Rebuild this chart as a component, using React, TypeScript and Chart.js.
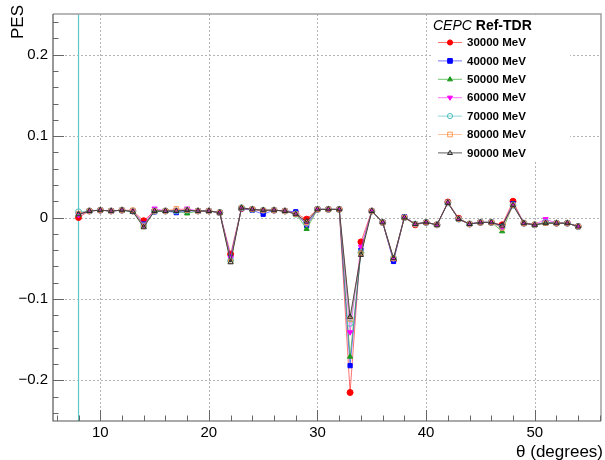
import React, { useEffect, useRef } from 'react';
import { Chart, registerables } from 'chart.js';

Chart.register(...registerables);

// ---------------- data ----------------
const thetaValues = [
  8, 9, 10, 11, 12, 13, 14, 15, 16, 17,
  18, 19, 20, 21, 22, 23, 24, 25, 26, 27,
  28, 29, 30, 31, 32, 33, 34, 35, 36, 37,
  38, 39, 40, 41, 42, 43, 44, 45, 46, 47,
  48, 49, 50, 51, 52, 53, 54,
];

const energyLabels = ['30000 MeV', '40000 MeV', '50000 MeV', '60000 MeV', '70000 MeV', '80000 MeV', '90000 MeV'];

const pes30000 = [
  0.000, 0.008, 0.009, 0.008, 0.009, 0.008, -0.004, 0.008, 0.008, 0.008,
  0.009, 0.008, 0.008, 0.006, -0.045, 0.011, 0.010, 0.008, 0.009, 0.008,
  0.005, -0.002, 0.010, 0.010, 0.010, -0.215, -0.030, 0.008, -0.006, -0.052,
  0.000, -0.009, -0.006, -0.009, 0.019, -0.001, -0.008, -0.006, -0.006, -0.009,
  0.020, -0.007, -0.009, -0.006, -0.007, -0.007, -0.011,
];
const pes40000 = [
  0.004, 0.008, 0.009, 0.008, 0.009, 0.008, -0.008, 0.007, 0.008, 0.006,
  0.008, 0.008, 0.008, 0.006, -0.049, 0.011, 0.009, 0.004, 0.009, 0.008,
  0.007, -0.010, 0.010, 0.010, 0.010, -0.182, -0.040, 0.008, -0.006, -0.054,
  0.001, -0.008, -0.006, -0.009, 0.018, -0.002, -0.008, -0.006, -0.006, -0.011,
  0.017, -0.007, -0.009, -0.006, -0.007, -0.007, -0.011,
];
const pes50000 = [
  0.003, 0.008, 0.009, 0.008, 0.009, 0.007, -0.010, 0.008, 0.008, 0.008,
  0.005, 0.008, 0.008, 0.006, -0.052, 0.011, 0.010, 0.009, 0.009, 0.008,
  0.005, -0.014, 0.010, 0.010, 0.010, -0.171, -0.042, 0.008, -0.006, -0.051,
  0.000, -0.008, -0.006, -0.009, 0.018, -0.002, -0.008, -0.006, -0.006, -0.017,
  0.016, -0.007, -0.009, -0.007, -0.007, -0.007, -0.011,
];
const pes60000 = [
  0.003, 0.008, 0.009, 0.008, 0.009, 0.008, -0.009, 0.011, 0.008, 0.009,
  0.011, 0.008, 0.008, 0.006, -0.050, 0.011, 0.010, 0.009, 0.009, 0.008,
  0.005, -0.008, 0.010, 0.010, 0.010, -0.141, -0.036, 0.008, -0.006, -0.051,
  0.001, -0.008, -0.006, -0.009, 0.018, -0.002, -0.008, -0.006, -0.006, -0.012,
  0.016, -0.007, -0.009, -0.002, -0.007, -0.007, -0.011,
];
const pes70000 = [
  0.007, 0.008, 0.009, 0.008, 0.009, 0.008, -0.010, 0.008, 0.008, 0.008,
  0.009, 0.008, 0.008, 0.006, -0.053, 0.012, 0.010, 0.009, 0.009, 0.008,
  0.004, -0.007, 0.010, 0.010, 0.010, -0.130, -0.043, 0.008, -0.006, -0.050,
  0.000, -0.008, -0.006, -0.009, 0.018, -0.002, -0.008, -0.006, -0.006, -0.012,
  0.015, -0.007, -0.009, -0.006, -0.007, -0.007, -0.011,
];
const pes80000 = [
  0.005, 0.008, 0.009, 0.008, 0.009, 0.009, -0.011, 0.008, 0.008, 0.011,
  0.009, 0.008, 0.008, 0.006, -0.054, 0.012, 0.010, 0.009, 0.009, 0.008,
  0.004, -0.006, 0.010, 0.010, 0.010, -0.125, -0.044, 0.008, -0.006, -0.050,
  0.000, -0.008, -0.006, -0.009, 0.018, -0.002, -0.008, -0.006, -0.006, -0.013,
  0.015, -0.007, -0.009, -0.007, -0.007, -0.007, -0.011,
];
const pes90000 = [
  0.004, 0.008, 0.009, 0.008, 0.009, 0.007, -0.012, 0.008, 0.008, 0.008,
  0.009, 0.008, 0.008, 0.006, -0.055, 0.012, 0.010, 0.009, 0.009, 0.008,
  0.004, -0.005, 0.010, 0.010, 0.010, -0.122, -0.046, 0.008, -0.006, -0.050,
  0.000, -0.008, -0.006, -0.009, 0.018, -0.002, -0.008, -0.006, -0.006, -0.010,
  0.015, -0.007, -0.009, -0.007, -0.007, -0.007, -0.011,
];

const seriesValues = [pes30000, pes40000, pes50000, pes60000, pes70000, pes80000, pes90000];

const xMinorTicks = [6, 8, 10, 12, 14, 16, 18, 20, 22, 24, 26, 28, 30, 32, 34, 36, 38, 40, 42, 44, 46, 48, 50, 52, 54, 56];
const xMajorTicks = [10, 20, 30, 40, 50];
const yMinorTicks = [-0.24, -0.22, -0.2, -0.18, -0.16, -0.14, -0.12, -0.1, -0.08, -0.06, -0.04, -0.02, 0,
  0.02, 0.04, 0.06, 0.08, 0.1, 0.12, 0.14, 0.16, 0.18, 0.2, 0.22, 0.24];
const yMajorTicks = [-0.2, -0.1, 0, 0.1, 0.2];
const xRange = [5.65, 56.1];
const yRange = [-0.25, 0.25];
const boundaryTheta = 8;

// ---------------- styles ----------------
const FONT = '"Liberation Sans", Arial, Helvetica, sans-serif';
const markerColors = ['#ff0000', '#0000ff', '#1a9a1a', '#ff00ff', '#4fbfbf', '#ff9955', '#2a2a2a'];
const lineColors = [
  'rgba(255,0,0,0.55)', 'rgba(0,0,255,0.55)', 'rgba(20,160,20,0.6)', 'rgba(255,0,255,0.55)',
  'rgba(70,185,185,0.6)', 'rgba(255,150,90,0.6)', 'rgba(40,40,40,0.75)',
];
const markerStyles = ['circle', 'rect', 'triangle', 'triangle', 'circle', 'rect', 'triangle'];
const markerRotation = [0, 0, 0, 180, 0, 0, 0];
const markerFilled = [true, true, true, true, false, false, false];

function fmtY(v: number): string {
  if (Math.abs(v) < 1e-9) return '0';
  return (v < 0 ? '\u2212' : '') + Math.abs(v).toFixed(1);
}
function isMajorY(v: number): boolean {
  return Math.abs(v * 10 - Math.round(v * 10)) < 1e-6;
}

function drawMarker(ctx: CanvasRenderingContext2D, i: number, x: number, y: number, r: number) {
  ctx.save();
  ctx.strokeStyle = markerColors[i];
  ctx.fillStyle = markerColors[i];
  ctx.lineWidth = 1;
  ctx.beginPath();
  const st = markerStyles[i];
  if (st === 'circle') {
    ctx.arc(x, y, r, 0, Math.PI * 2);
  } else if (st === 'rect') {
    ctx.rect(x - r * 0.9, y - r * 0.9, r * 1.8, r * 1.8);
  } else {
    const d = markerRotation[i] === 180 ? -1 : 1;
    ctx.moveTo(x, y - d * r);
    ctx.lineTo(x + r * 0.95, y + d * r * 0.6);
    ctx.lineTo(x - r * 0.95, y + d * r * 0.6);
    ctx.closePath();
  }
  if (markerFilled[i]) ctx.fill();
  ctx.stroke();
  ctx.restore();
}

const rootStylePlugin = {
  id: 'rootStyle',
  beforeDatasetsDraw(chart: any) {
    const { ctx, chartArea: a, scales } = chart;
    const xs = scales.x;
    const ys = scales.y;
    ctx.save();
    ctx.strokeStyle = '#b4b4b4';
    ctx.lineWidth = 1;
    ctx.setLineDash([2, 2]);
    xMajorTicks.forEach((v) => {
      const px = Math.round(xs.getPixelForValue(v)) + 0.5;
      ctx.beginPath();
      ctx.moveTo(px, a.top);
      ctx.lineTo(px, a.bottom);
      ctx.stroke();
    });
    yMajorTicks.forEach((v) => {
      const py = Math.round(ys.getPixelForValue(v)) + 0.5;
      ctx.beginPath();
      ctx.moveTo(a.left, py);
      ctx.lineTo(a.right, py);
      ctx.stroke();
    });
    ctx.setLineDash([]);
    // legend background box hides grid lines
    ctx.fillStyle = '#ffffff';
    ctx.fillRect(433, 15, 137, 147);
    // boundary line
    ctx.strokeStyle = '#5cc8c8';
    ctx.lineWidth = 1.2;
    const bx = xs.getPixelForValue(boundaryTheta);
    ctx.beginPath();
    ctx.moveTo(bx, a.top);
    ctx.lineTo(bx, a.bottom);
    ctx.stroke();
    ctx.restore();
  },
  afterDatasetsDraw(chart: any) {
    const { ctx, chartArea: a, scales } = chart;
    const xs = scales.x;
    const ys = scales.y;
    ctx.save();
    // frame
    ctx.strokeStyle = '#a0a0a0';
    ctx.lineWidth = 1.5;
    ctx.beginPath();
    ctx.moveTo(a.left, a.top);
    ctx.lineTo(a.right, a.top);
    ctx.lineTo(a.right, a.bottom);
    ctx.stroke();
    ctx.strokeStyle = '#555555';
    ctx.lineWidth = 1.2;
    ctx.beginPath();
    ctx.moveTo(a.left, a.top);
    ctx.lineTo(a.left, a.bottom);
    ctx.lineTo(a.right, a.bottom);
    ctx.stroke();
    // inner ticks
    ctx.lineWidth = 1;
    ctx.strokeStyle = '#666666';
    xMinorTicks.forEach((v) => {
      const px = Math.round(xs.getPixelForValue(v)) + 0.5;
      const len = xMajorTicks.includes(v) ? 11 : 5.5;
      ctx.beginPath();
      ctx.moveTo(px, a.bottom);
      ctx.lineTo(px, a.bottom - len);
      ctx.stroke();
    });
    yMinorTicks.forEach((v) => {
      const py = Math.round(ys.getPixelForValue(v)) + 0.5;
      const len = isMajorY(v) ? 11 : 5.5;
      ctx.beginPath();
      ctx.moveTo(a.left, py);
      ctx.lineTo(a.left + len, py);
      ctx.stroke();
    });
    // axis titles
    ctx.fillStyle = '#000';
    ctx.font = `17px ${FONT}`;
    ctx.textAlign = 'right';
    ctx.textBaseline = 'alphabetic';
    ctx.fillText('\u03b8 (degrees)', 603, 457);
    ctx.save();
    ctx.translate(23, 5);
    ctx.rotate(-Math.PI / 2);
    ctx.textAlign = 'right';
    ctx.fillText('PES', 0, 0);
    ctx.restore();

    // legend
    ctx.textAlign = 'left';
    ctx.textBaseline = 'middle';
    ctx.font = `italic 14px ${FONT}`;
    const t1 = 'CEPC ';
    ctx.fillText(t1, 433, 26);
    const w1 = ctx.measureText(t1).width;
    ctx.font = `bold 14px ${FONT}`;
    ctx.fillText('Ref-TDR', 433 + w1, 26);
    energyLabels.forEach((lab, i) => {
      const y = 42.5 + i * 18.4;
      ctx.strokeStyle = lineColors[i];
      ctx.lineWidth = 1;
      ctx.beginPath();
      ctx.moveTo(438, y);
      ctx.lineTo(462, y);
      ctx.stroke();
      drawMarker(ctx, i, 450, y, 2.6);
      ctx.fillStyle = '#000';
      ctx.font = `bold 11.5px ${FONT}`;
      ctx.fillText(lab, 467, y + 0.5);
    });
    ctx.restore();
  },
};

export default function App() {
  const canvasRef = useRef<HTMLCanvasElement | null>(null);

  useEffect(() => {
    document.body.style.margin = '0';
    const canvas = canvasRef.current;
    if (!canvas) return;

    const datasets = energyLabels.map((lab, i) => ({
      label: lab,
      data: thetaValues.map((t, k) => ({ x: t, y: seriesValues[i][k] })),
      borderColor: lineColors[i],
      backgroundColor: markerColors[i],
      borderWidth: 1,
      pointStyle: markerStyles[i] as any,
      pointRotation: markerRotation[i],
      pointRadius: 3,
      pointHoverRadius: 3,
      pointBorderWidth: 1,
      pointBorderColor: markerColors[i],
      pointBackgroundColor: markerFilled[i] ? markerColors[i] : 'rgba(0,0,0,0)',
      tension: 0,
      order: energyLabels.length - i,
    }));

    const chart = new Chart(canvas, {
      type: 'line',
      data: { datasets },
      plugins: [rootStylePlugin],
      options: {
        animation: false,
        responsive: false,
        maintainAspectRatio: false,
        events: [],
        layout: { padding: { top: 6, right: 1, left: 0, bottom: 0 } },
        plugins: { legend: { display: false }, tooltip: { enabled: false }, title: { display: false } },
        scales: {
          x: {
            type: 'linear',
            min: xRange[0],
            max: xRange[1],
            afterBuildTicks: (s: any) => {
              s.ticks = xMinorTicks.map((v) => ({ value: v }));
            },
            afterFit: (s: any) => {
              s.height = 39;
            },
            ticks: {
              autoSkip: false,
              maxRotation: 0,
              minRotation: 0,
              padding: 3,
              color: '#000',
              font: { family: FONT, size: 15 },
              callback: (v: any) => (xMajorTicks.includes(Number(v)) ? String(v) : ''),
            },
            grid: { display: false, drawTicks: false },
            border: { display: false },
          },
          y: {
            type: 'linear',
            min: yRange[0],
            max: yRange[1],
            afterBuildTicks: (s: any) => {
              s.ticks = yMinorTicks.map((v) => ({ value: v }));
            },
            afterFit: (s: any) => {
              s.width = 53;
            },
            ticks: {
              autoSkip: false,
              padding: 5,
              color: '#000',
              font: { family: FONT, size: 15 },
              callback: (v: any) => (isMajorY(Number(v)) ? fmtY(Number(v)) : ''),
            },
            grid: { display: false, drawTicks: false },
            border: { display: false },
          },
        },
      },
    });

    return () => {
      chart.destroy();
    };
  }, []);

  return (
    <div style={{ width: 605, height: 460, background: '#fff' }}>
      <canvas ref={canvasRef} width={605} height={460} style={{ display: 'block', width: 605, height: 460 }} />
    </div>
  );
}
